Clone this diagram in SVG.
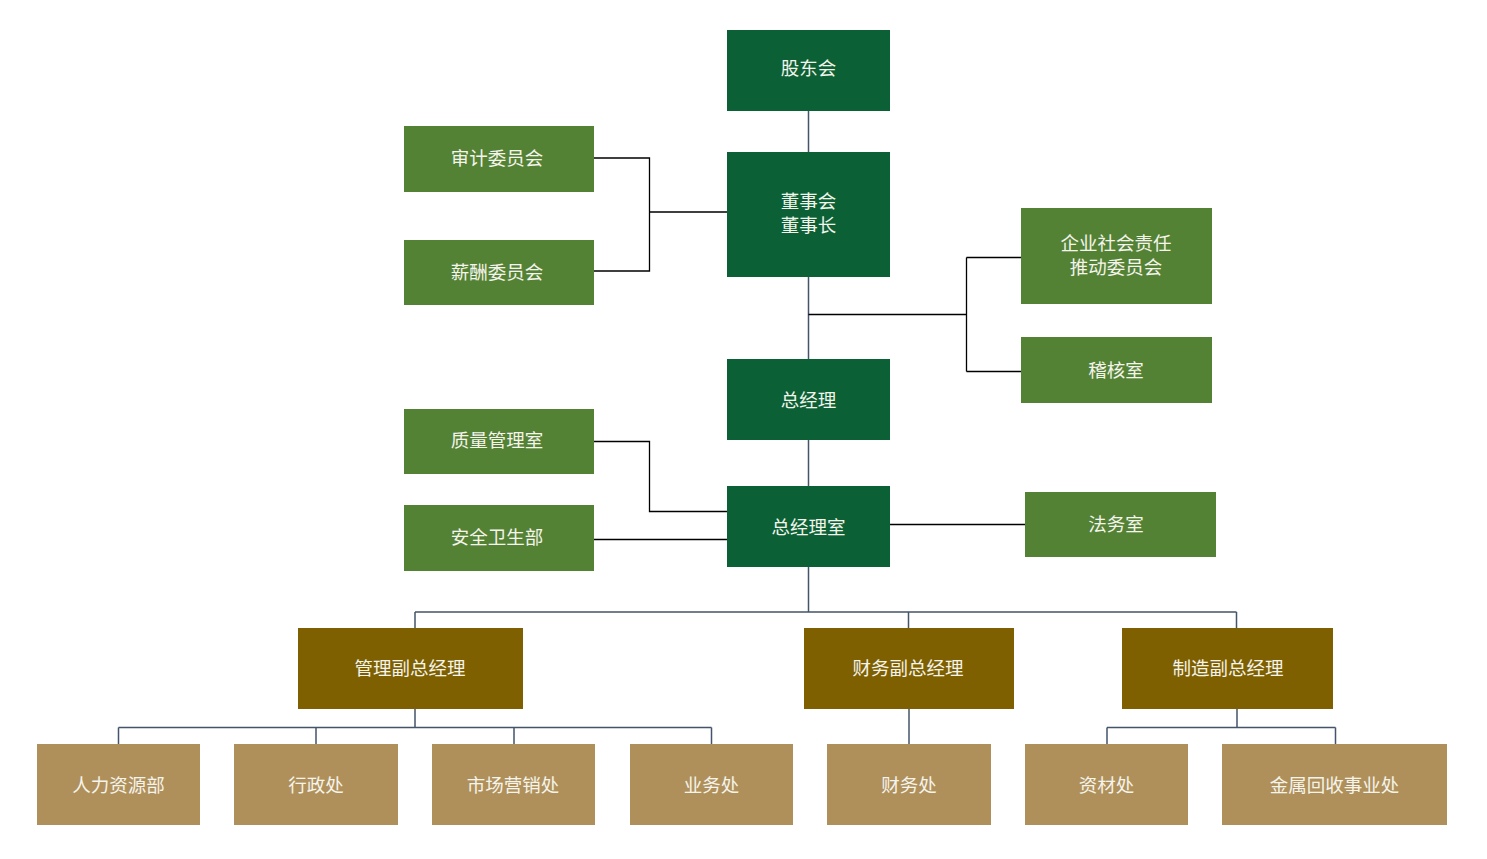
<svg xmlns="http://www.w3.org/2000/svg" width="1487" height="859" viewBox="0 0 1487 859">
<style>
.dg{fill:#0B6135}
.mg{fill:#548235}
.gd{fill:#7F6000}
.tn{fill:#B0905A}
text{font-family:"Noto Sans CJK SC","Microsoft YaHei",sans-serif;font-size:18.5px;fill:#F4F4EC;text-anchor:middle;dominant-baseline:central}
.k{stroke:#000;stroke-width:1.3;fill:none}
.s{stroke:#44546A;stroke-width:1.5;fill:none}
</style>
<rect width="1487" height="859" fill="#fff"/>
<g id="connectors">
<path class="s" d="M808.5 111V152M808.5 277V359M808.5 440V486M808.5 567V612M415 612H1236.5M415 612V628M908.5 612V628M1236.5 612V628"/>
<path class="k" d="M594 158H649.5V271H594M649.5 212H727"/>
<path class="k" d="M808.5 314.5H966.5M966.5 257.5V371.5M966.5 257.5H1021M966.5 371.5H1021"/>
<path class="k" d="M594 441.5H649.5V511.5H727M594 539.5H727M890 524.5H1025"/>
<path class="s" d="M415 709V727.5M118.5 727.5H711.5M118.5 727.5V744M316 727.5V744M514 727.5V744M711.5 727.5V744"/>
<path class="s" d="M909 709V744"/>
<path class="s" d="M1237 709V727.5M1107 727.5H1335.5M1107 727.5V744M1335.5 727.5V744"/>
</g>
<g id="n-gudong"><rect class="dg" x="727" y="30" width="163" height="81"/><text x="808.5" y="67">股东会</text></g>
<g id="n-dongshi"><rect class="dg" x="727" y="152" width="163" height="125"/><text x="808.5" y="200">董事会</text><text x="808.5" y="224">董事长</text></g>
<g id="n-shenji"><rect class="mg" x="404" y="126" width="190" height="66"/><text x="497" y="157">审计委员会</text></g>
<g id="n-xinchou"><rect class="mg" x="404" y="240" width="190" height="65"/><text x="497" y="271">薪酬委员会</text></g>
<g id="n-csr"><rect class="mg" x="1021" y="208" width="191" height="96"/><text x="1116" y="242">企业社会责任</text><text x="1116" y="266">推动委员会</text></g>
<g id="n-jihe"><rect class="mg" x="1021" y="337" width="191" height="66"/><text x="1116" y="369">稽核室</text></g>
<g id="n-zongjingli"><rect class="dg" x="727" y="359" width="163" height="81"/><text x="808.5" y="399">总经理</text></g>
<g id="n-zhiliang"><rect class="mg" x="404" y="409" width="190" height="65"/><text x="497" y="439">质量管理室</text></g>
<g id="n-anquan"><rect class="mg" x="404" y="505" width="190" height="66"/><text x="497" y="536">安全卫生部</text></g>
<g id="n-zjls"><rect class="dg" x="727" y="486" width="163" height="81"/><text x="808.5" y="526">总经理室</text></g>
<g id="n-fawu"><rect class="mg" x="1025" y="492" width="191" height="65"/><text x="1116" y="523">法务室</text></g>
<g id="n-guanli"><rect class="gd" x="298" y="628" width="225" height="81"/><text x="410" y="667">管理副总经理</text></g>
<g id="n-caiwufu"><rect class="gd" x="804" y="628" width="210" height="81"/><text x="908" y="667">财务副总经理</text></g>
<g id="n-zhizao"><rect class="gd" x="1122" y="628" width="211" height="81"/><text x="1228" y="667">制造副总经理</text></g>
<g id="n-renli"><rect class="tn" x="37" y="744" width="163" height="81"/><text x="118.5" y="784">人力资源部</text></g>
<g id="n-xingzheng"><rect class="tn" x="234" y="744" width="164" height="81"/><text x="316" y="784">行政处</text></g>
<g id="n-shichang"><rect class="tn" x="432" y="744" width="163" height="81"/><text x="513" y="784">市场营销处</text></g>
<g id="n-yewu"><rect class="tn" x="630" y="744" width="163" height="81"/><text x="711.5" y="784">业务处</text></g>
<g id="n-caiwu"><rect class="tn" x="827" y="744" width="164" height="81"/><text x="909" y="784">财务处</text></g>
<g id="n-zicai"><rect class="tn" x="1025" y="744" width="163" height="81"/><text x="1106.5" y="784">资材处</text></g>
<g id="n-jinshu"><rect class="tn" x="1222" y="744" width="225" height="81"/><text x="1334.5" y="784">金属回收事业处</text></g>
</svg>
